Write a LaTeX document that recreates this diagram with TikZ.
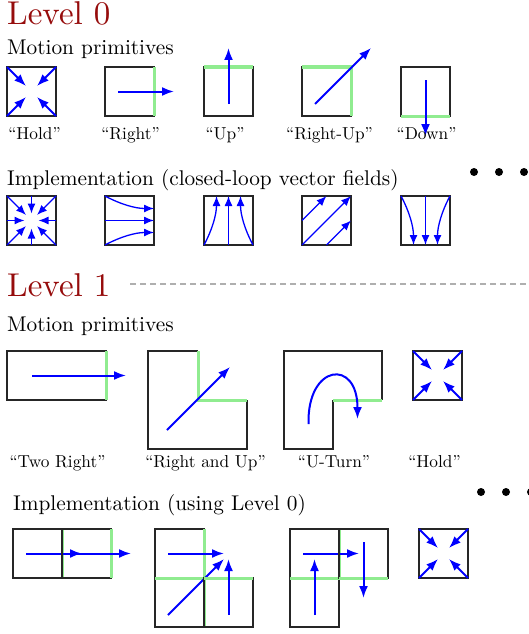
\documentclass[tikz,border=0pt]{standalone}
\usepackage{fontspec}
\usetikzlibrary{arrows.meta}
\definecolor{lvlred}{RGB}{150,12,12}
\definecolor{goalgreen}{RGB}{144,236,144}
\definecolor{dashgray}{RGB}{175,175,175}
\newcommand\TxtLv[1]{\scalebox{3.3}{\fontsize{10}{12}\selectfont #1}}
\newcommand\TxtSub[1]{\scalebox{2.13}{\fontsize{10}{12}\selectfont #1}}
\newcommand\TxtLab[1]{\scalebox{1.73}{\fontsize{10}{12}\selectfont #1}}
\tikzset{
  frame/.style={draw=black!85, line width=1.2pt},
  goal/.style={draw=goalgreen, line width=3pt},
  mv/.style={blue, line width=2pt, -{Latex[length=12pt,width=9pt]}},
  vf/.style={blue, line width=1.3pt, -{Latex[length=10pt,width=8pt]}},
  lvl/.style={anchor=base west, inner sep=0pt, text=lvlred},
  sub/.style={anchor=base west, inner sep=0pt},
  lab/.style={anchor=base, inner sep=0pt},
  dot/.style={fill=black, circle, inner sep=0pt, minimum size=8pt}
}
% primitives, (#1,#2) = top-left corner, side 49
\newcommand\PHold[2]{%
  \draw[frame] (#1,#2) rectangle (#1+49,#2+49);
  \draw[mv] (#1,#2) -- (#1+19,#2+19);
  \draw[mv] (#1+49,#2) -- (#1+30,#2+19);
  \draw[mv] (#1,#2+49) -- (#1+19,#2+30);
  \draw[mv] (#1+49,#2+49) -- (#1+30,#2+30);}
\newcommand\PRight[2]{%
  \draw[frame] (#1,#2) rectangle (#1+49,#2+49);
  \draw[goal] (#1+49,#2) -- (#1+49,#2+49);
  \draw[mv] (#1+13,#2+24.5) -- (#1+69,#2+24.5);}
\newcommand\PUp[2]{%
  \draw[frame] (#1,#2) rectangle (#1+49,#2+49);
  \draw[goal] (#1,#2) -- (#1+49,#2);
  \draw[mv] (#1+24.5,#2+37) -- (#1+24.5,#2-19);}
\newcommand\PRightUp[2]{%
  \draw[frame] (#1,#2) rectangle (#1+49,#2+49);
  \draw[goal] (#1,#2) -- (#1+49,#2) -- (#1+49,#2+49);
  \draw[mv] (#1+13,#2+37) -- (#1+69,#2-19);}
\newcommand\PDown[2]{%
  \draw[frame] (#1,#2) rectangle (#1+49,#2+49);
  \draw[goal] (#1,#2+49) -- (#1+49,#2+49);
  \draw[mv] (#1+24.5,#2+13) -- (#1+24.5,#2+69);}
\begin{document}
\begin{tikzpicture}[x=1pt,y=-1pt]
\useasboundingbox (0,0) rectangle (528,634);

% ---------- Level 0 ----------
\node[lvl] (lv0) at (7,25) {\TxtLv{Level 0}};
\node[sub] (mp0) at (7,55) {\TxtSub{Motion primitives}};

\PHold{7}{67}
\PRight{105}{67}
\PUp{204}{67}
\PRightUp{302}{67}
\PDown{401}{67}

\node[lab] (l0a) at (34.5,139) {\TxtLab{``Hold''}};
\node[lab] (l0b) at (130.5,139) {\TxtLab{``Right''}};
\node[lab] (l0c) at (225,139) {\TxtLab{``Up''}};
\node[lab] (l0d) at (329.5,139) {\TxtLab{``Right-Up''}};
\node[lab] (l0e) at (426.5,139) {\TxtLab{``Down''}};

\node[sub] (im0) at (7,185) {\TxtSub{Implementation (closed-loop vector fields)}};

\node[dot] (d1) at (474,172) {};
\node[dot] (d2) at (499,172) {};
\node[dot] (d3) at (524,172) {};

% vector fields
% Hold
\draw[frame] (7,196) rectangle (56,245);
\foreach \ax/\ay/\bx/\by in {7/196/26/215, 56/196/37/215, 7/245/26/226, 56/245/37/226,
  31.5/196/31.5/213.5, 31.5/245/31.5/228.5, 7/220.5/24.5/220.5, 56/220.5/38.5/220.5}
  \draw[vf] (\ax,\ay) -- (\bx,\by);
% Right
\draw[frame] (105,196) rectangle (154,245);
\draw[vf] (105,196) .. controls (120,204) and (135,208.5) .. (154,208.5);
\draw[vf] (105,220.5) -- (154,220.5);
\draw[vf] (105,245) .. controls (120,237) and (135,232.5) .. (154,232.5);
% Up
\draw[frame] (204,196) rectangle (253,245);
\draw[vf] (204,245) .. controls (212,230) and (216.5,215) .. (216.5,196);
\draw[vf] (228.5,245) -- (228.5,196);
\draw[vf] (253,245) .. controls (245,230) and (240.5,215) .. (240.5,196);
% Right-Up
\draw[frame] (302,196) rectangle (351,245);
\draw[vf] (302,245) -- (351,196);
\draw[vf] (302,220.5) -- (326.5,196);
\draw[vf] (326.5,245) -- (351,220.5);
% Down
\draw[frame] (401,196) rectangle (450,245);
\draw[vf] (401,196) .. controls (409,211) and (413.5,226) .. (413.5,245);
\draw[vf] (425.5,196) -- (425.5,245);
\draw[vf] (450,196) .. controls (442,211) and (437.5,226) .. (437.5,245);

% ---------- Level 1 ----------
\node[lvl] (lv1) at (7,296) {\TxtLv{Level 1}};
\coordinate (dashstart) at (130,284);
\coordinate (dashend) at (528,284);
\draw[dashgray, line width=2pt, dash pattern=on 6pt off 4pt] (dashstart) -- (dashend);
\node[sub] (mp1) at (7,331) {\TxtSub{Motion primitives}};

% Two Right
\draw[frame] (7,351) rectangle (106,400);
\draw[goal] (106,351) -- (106,400);
\draw[mv] (32,375.5) -- (126,375.5);
% Right and Up
\draw[frame] (198,351) -- (148,351) -- (148,449) -- (247,449) -- (247,400);
\draw[goal] (247,400) -- (198,400) -- (198,351);
\draw[mv] (167,430) -- (230,367);
% U-Turn
\draw[frame] (382,400) -- (382,351) -- (284,351) -- (284,449) -- (333,449) -- (333,400);
\draw[goal] (333,400) -- (382,400);
\draw[mv] (308.5,424) .. controls (307,364) and (357.5,358) .. (357.5,419);
% Hold
\PHold{413}{351}

\node[lab] (l1a) at (57.5,467) {\TxtLab{``Two Right''}};
\node[lab] (l1b) at (205.5,467) {\TxtLab{``Right and Up''}};
\node[lab] (l1c) at (334,467) {\TxtLab{``U-Turn''}};
\node[lab] (l1d) at (434.5,467) {\TxtLab{``Hold''}};

\node[sub] (im1) at (13,510.5) {\TxtSub{Implementation (using Level 0)}};

\node[dot] (e1) at (481,492) {};
\node[dot] (e2) at (506,492) {};
\node[dot] (e3) at (531,492) {};

% Two Right implementation
\PRight{13}{529}
\PRight{62}{529}
% Right and Up implementation
\PRight{155}{529}
\PRightUp{155}{578}
\PUp{204}{578}
% U-Turn implementation
\PRight{290}{529}
\PUp{290}{578}
\PDown{339}{529}
% Hold implementation
\PHold{419}{529}
\end{tikzpicture}
\end{document}
